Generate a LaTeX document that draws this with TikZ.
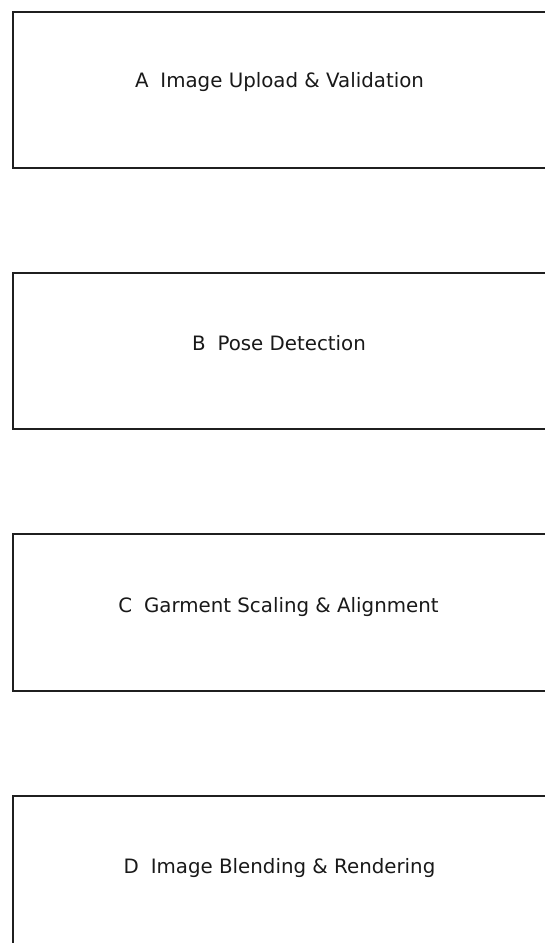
\documentclass[tikz,border=0pt]{standalone}
\usepackage{fontspec}
\setmainfont{DejaVu Sans}
\begin{document}
\begin{tikzpicture}[x=1pt,y=-1pt,
  stagebox/.style={draw=black!88, line width=2pt, fill=white, rectangle,
    minimum width=536pt, minimum height=156.5pt, anchor=north west, inner sep=0pt},
  stagelabel/.style={anchor=base, font=\fontsize{19.8}{23}\selectfont, text=black!90, inner sep=0pt}
]
  \useasboundingbox (0,0) rectangle (545,943);
  \clip (0,0) rectangle (545,943);

  % four pipeline stages, stacked top to bottom
  \node[stagebox] (A) at (12,10.5) {};
  \node[stagebox] (B) at (12,271.5) {};
  \node[stagebox] (C) at (12,533) {};
  \node[stagebox] (D) at (12,794.5) {};

  \node[stagelabel] (Atext) at (279.5,87.5) {A\hspace{0.6em}Image Upload \& Validation};
  \node[stagelabel] (Btext) at (279,350) {B\hspace{0.6em}Pose Detection};
  \node[stagelabel] (Ctext) at (278.5,612) {C\hspace{0.6em}Garment Scaling \& Alignment};
  \node[stagelabel] (Dtext) at (279.5,873) {D\hspace{0.6em}Image Blending \& Rendering};
\end{tikzpicture}
\end{document}
